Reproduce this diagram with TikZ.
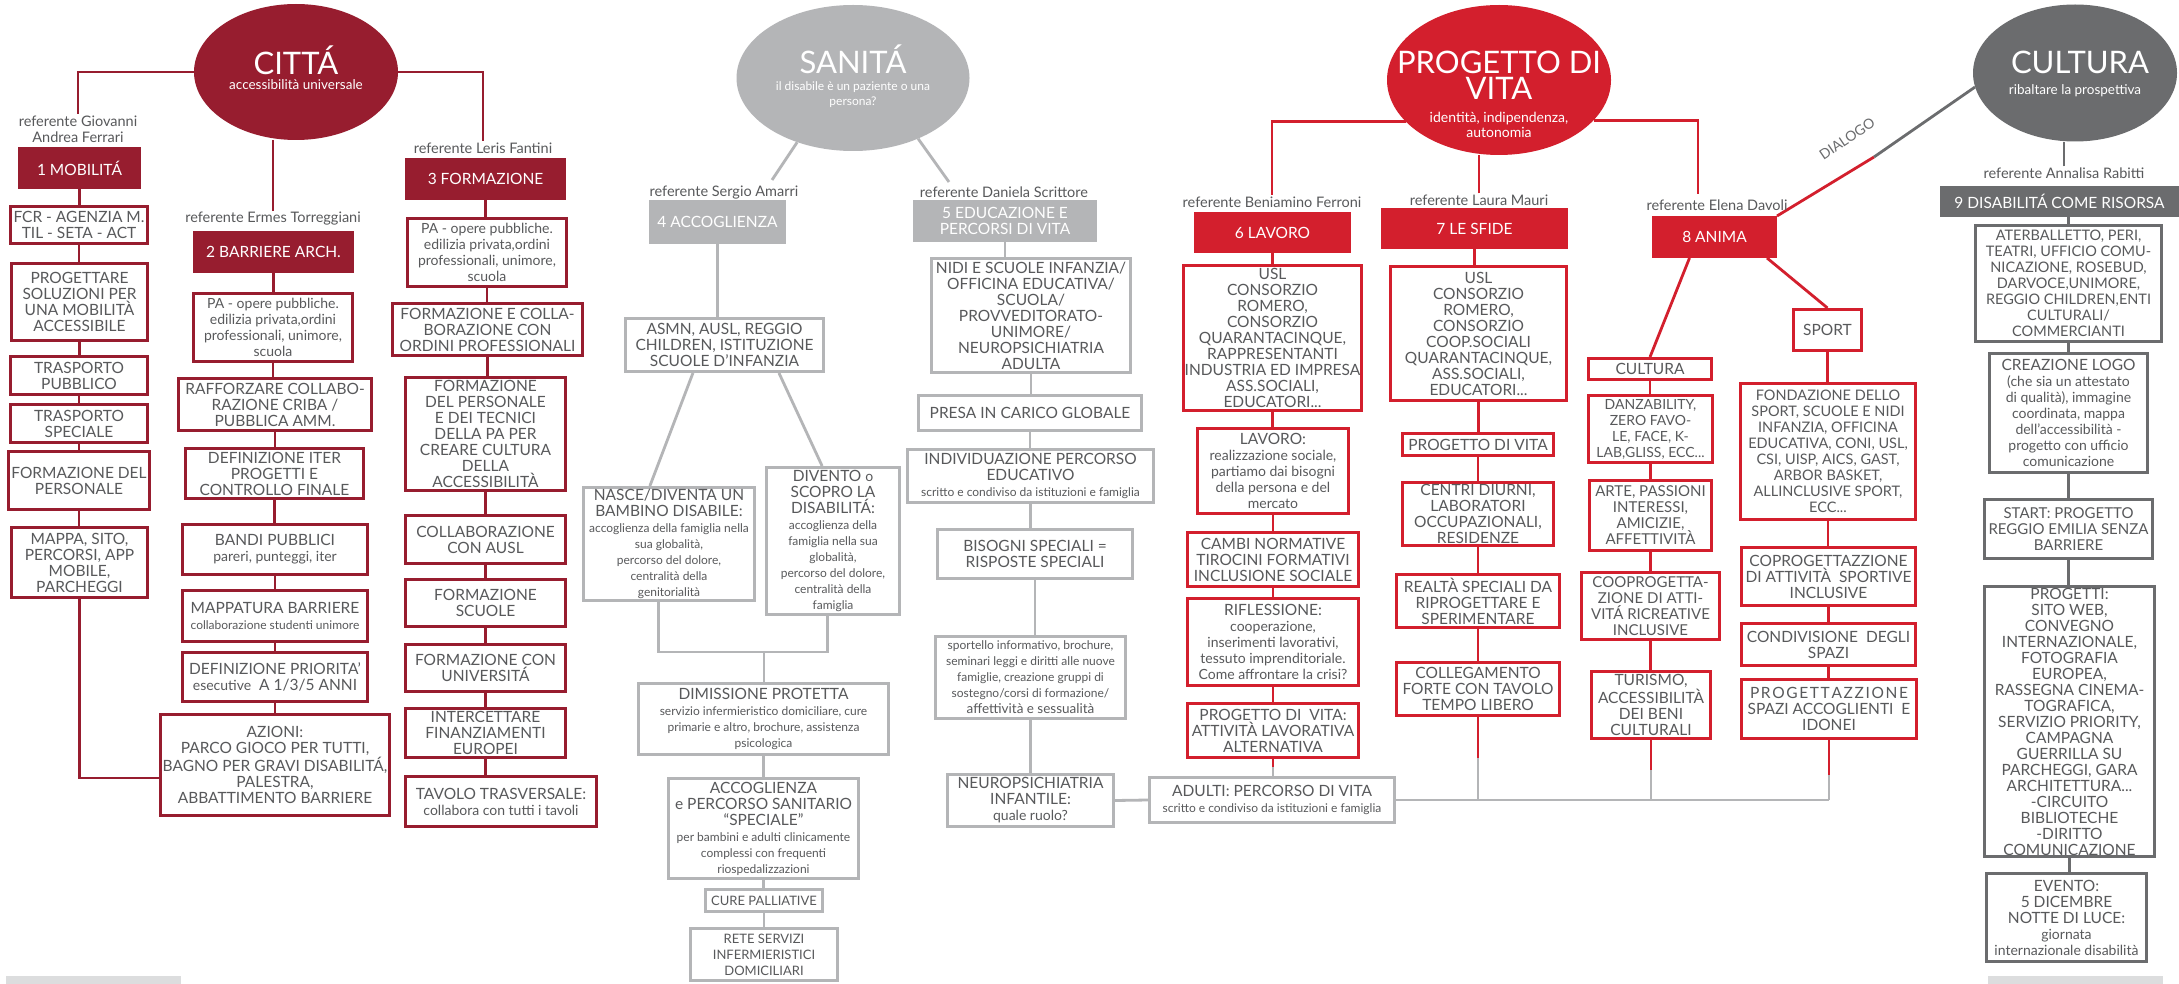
\documentclass[tikz,border=0pt]{standalone}
\usepackage{fontspec}
\setmainfont{Lato}
\usetikzlibrary{shapes.geometric,calc}
\definecolor{cred}{HTML}{971D2F}
\definecolor{pred}{HTML}{D31F2D}
\definecolor{sgr}{HTML}{B4B5B7}
\definecolor{kgr}{HTML}{6B6C6E}
\definecolor{txt}{HTML}{58595B}
\definecolor{barc}{HTML}{DCDDDE}
\pgfdeclarelayer{bg}
\pgfsetlayers{bg,main}
\newcommand\CAP{\fontsize{15.5}{16}\selectfont}
\newcommand\MED{\fontsize{14}{16}\selectfont}
\newcommand\SML{\fontsize{12}{14.5}\selectfont}
\newcommand\RBOX[7]{\node[#2, minimum width={(#5)-(#3)-2.8}, minimum height={(#6)-(#4)-2.8}] (#1) at ({((#3)+(#5))/2},{((#4)+(#6))/2}) {#7};}
\tikzset{
  bx/.style={align=center, inner sep=1pt, text=txt, font=\CAP, fill=white, line width=2.8pt},
  cb/.style={bx, draw=cred},
  cf/.style={bx, draw=cred, fill=cred, text=white},
  sb/.style={bx, draw=sgr},
  sf/.style={bx, draw=sgr, fill=sgr, text=white},
  pb/.style={bx, draw=pred},
  pf/.style={bx, draw=pred, fill=pred, text=white},
  kb/.style={bx, draw=kgr},
  kf/.style={bx, draw=kgr, fill=kgr, text=white},
  refl/.style={align=center, inner sep=1pt, text=txt, font=\fontsize{14.5}{16}\selectfont},
  ell/.style={ellipse, inner sep=0pt, draw=none},
  ttl/.style={align=center, text=white, inner sep=0pt},
  cl/.style={draw=cred, line width=2.8pt},
  sl/.style={draw=sgr, line width=2.8pt},
  pl/.style={draw=pred, line width=2.8pt},
  kl/.style={draw=kgr, line width=2.8pt},
}
\begin{document}
\begin{tikzpicture}[x=1pt,y=-1pt]
\useasboundingbox (0,0) rectangle (2179,984);
% ellipses
\node[ell, fill=cred, minimum width=204, minimum height=136] (citta) at (296,72) {};
\node[ell, fill=sgr, minimum width=233, minimum height=146] (sanita) at (853,78) {};
\node[ell, fill=pred, minimum width=224, minimum height=150] (pv) at (1499,80) {};
\node[ell, fill=kgr, minimum width=204, minimum height=137] (cu) at (2075,73) {};
\node[ttl, anchor=base, font=\fontsize{31}{31}\selectfont] (ct1) at (296,75) {CITTÁ};
\node[ttl, anchor=base, font=\fontsize{13.5}{15}\selectfont] (ct2) at (296,90) {accessibilità universale};
\node[ttl, anchor=base, font=\fontsize{31}{31}\selectfont] (st1) at (853,74) {SANITÁ};
\node[ttl, font=\fontsize{12}{15}\selectfont] (st2) at (853,95) {il disabile è un paziente o una\\persona?};
\node[ttl, font=\fontsize{31}{26}\selectfont] (pt1) at (1499,75) {PROGETTO DI\\VITA};
\node[ttl, font=\fontsize{14}{15}\selectfont] (pt2) at (1499,125) {identità, indipendenza,\\autonomia};
\node[ttl, anchor=base, font=\fontsize{31}{31}\selectfont] (kt1) at (2080,74) {CULTURA};
\node[ttl, anchor=base, font=\fontsize{13.5}{15}\selectfont] (kt2) at (2075,95) {ribaltare la prospettiva};
% referenti
\node[refl] (r1) at (78,129) {referente Giovanni\\Andrea Ferrari};
\node[refl] (r2) at (273,219) {referente Ermes Torreggiani};
\node[refl] (r3) at (483,148) {referente Leris Fantini};
\node[refl] (r4) at (724,193) {referente Sergio Amarri};
\node[refl] (r5) at (1004,192) {referente Daniela Scrittore};
\node[refl] (r6) at (1272,202) {referente Beniamino Ferroni};
\node[refl] (r7) at (1479,200) {referente Laura Mauri};
\node[refl] (r8) at (1717,205) {referente Elena Davoli};
\node[refl] (r9) at (2064,173) {referente Annalisa Rabitti};
% CITTA
\RBOX{f1}{cf}{18}{147}{141}{189}{1 MOBILITÁ}
\RBOX{c1a}{cb}{9}{205}{149}{245}{FCR - AGENZIA M.\\TIL - SETA - ACT}
\RBOX{c1b}{cb}{10}{262}{149}{342}{PROGETTARE\\SOLUZIONI PER\\UNA MOBILITÀ\\ACCESSIBILE}
\RBOX{c1c}{cb}{9}{355}{149}{396}{TRASPORTO\\PUBBLICO}
\RBOX{c1d}{cb}{9}{403}{149}{444}{TRASPORTO\\SPECIALE}
\RBOX{c1e}{cb}{7}{450}{151}{511}{FORMAZIONE DEL\\PERSONALE}
\RBOX{c1f}{cb}{10}{526}{149}{599}{MAPPA, SITO,\\PERCORSI, APP\\MOBILE,\\PARCHEGGI}
\RBOX{f2}{cf}{193}{231}{354}{273}{2 BARRIERE ARCH.}
\RBOX{c2a}{cb}{192}{292}{354}{363}{\MED PA - opere pubbliche.\\\MED edilizia privata,ordini\\\MED professionali, unimore,\\\MED scuola}
\RBOX{c2b}{cb}{177}{377}{373}{432}{RAFFORZARE COLLABO-\\RAZIONE CRIBA /\\PUBBLICA AMM.}
\RBOX{c2c}{cb}{184}{447}{365}{500}{DEFINIZIONE ITER\\PROGETTI E\\CONTROLLO FINALE}
\RBOX{c2d}{cb}{181}{523}{369}{576}{BANDI PUBBLICI\\\MED pareri, punteggi, iter}
\RBOX{c2e}{cb}{181}{589}{369}{643}{MAPPATURA BARRIERE\\\fontsize{12}{14}\selectfont collaborazione studenti unimore}
\RBOX{c2f}{cb}{181}{651}{369}{703}{DEFINIZIONE PRIORITA’\\{\MED esecutive}\ \ A 1/3/5 ANNI}
\RBOX{c2g}{cb}{159}{713}{391}{817}{AZIONI:\\PARCO GIOCO PER TUTTI,\\BAGNO PER GRAVI DISABILITÁ,\\PALESTRA,\\ABBATTIMENTO BARRIERE}
\RBOX{f3}{cf}{405}{158}{566}{200}{3 FORMAZIONE}
\RBOX{c3a}{cb}{406}{217}{568}{288}{\MED PA - opere pubbliche.\\\MED edilizia privata,ordini\\\MED professionali, unimore,\\\MED scuola}
\RBOX{c3b}{cb}{391}{302}{584}{357}{FORMAZIONE E COLLA-\\BORAZIONE CON\\ORDINI PROFESSIONALI}
\RBOX{c3c}{cb}{404}{376}{567}{492}{FORMAZIONE\\DEL PERSONALE\\E DEI TECNICI\\DELLA PA PER\\CREARE CULTURA\\DELLA\\ACCESSIBILITÀ}
\RBOX{c3d}{cb}{404}{514}{567}{565}{COLLABORAZIONE\\CON AUSL}
\RBOX{c3e}{cb}{404}{578}{567}{628}{FORMAZIONE\\SCUOLE}
\RBOX{c3f}{cb}{404}{643}{567}{693}{FORMAZIONE CON\\UNIVERSITÁ}
\RBOX{c3g}{cb}{404}{707}{567}{759}{INTERCETTARE\\FINANZIAMENTI\\EUROPEI}
\RBOX{c3h}{cb}{404}{775}{598}{828}{TAVOLO TRASVERSALE:\\\MED collabora con tutti i tavoli}
% SANITA
\RBOX{f4}{sf}{649}{200}{786}{244}{4 ACCOGLIENZA}
\RBOX{s4a}{sb}{624}{317}{825}{373}{ASMN, AUSL, REGGIO\\CHILDREN, ISTITUZIONE\\SCUOLE D’INFANZIA}
\RBOX{s4b}{sb}{582}{486}{756}{602}{NASCE/DIVENTA UN\\BAMBINO DISABILE:\\\SML accoglienza della famiglia nella\\\SML sua globalità,\\\SML percorso del dolore,\\\SML centralità della\\\SML genitorialità}
\RBOX{s4c}{sb}{765}{466}{901}{616}{DIVENTO {\MED o}\\SCOPRO LA\\DISABILITÁ:\\\SML accoglienza della\\\SML famiglia nella sua\\\SML globalità,\\\SML percorso del dolore,\\\SML centralità della\\\SML famiglia}
\RBOX{s4d}{sb}{637}{682}{890}{756}{DIMISSIONE PROTETTA\\\SML servizio infermieristico domiciliare, cure\\\SML primarie e altro, brochure, assistenza\\\SML psicologica}
\RBOX{s4e}{sb}{667}{777}{860}{880}{ACCOGLIENZA\\e PERCORSO SANITARIO\\“SPECIALE”\\\SML per bambini e adulti clinicamente\\\SML complessi con frequenti\\\SML riospedalizzazioni}
\RBOX{s4f}{sb}{704}{888}{824}{913}{\fontsize{13}{15}\selectfont CURE PALLIATIVE}
\RBOX{s4g}{sb}{689}{927}{839}{982}{\fontsize{13}{15}\selectfont RETE SERVIZI\\\fontsize{13}{15}\selectfont INFERMIERISTICI\\\fontsize{13}{15}\selectfont DOMICILIARI}
\RBOX{f5}{sf}{913}{200}{1097}{242}{5 EDUCAZIONE E\\PERCORSI DI VITA}
\RBOX{s5a}{sb}{930}{257}{1132}{374}{NIDI E SCUOLE INFANZIA/\\OFFICINA EDUCATIVA/\\SCUOLA/\\PROVVEDITORATO-\\UNIMORE/\\NEUROPSICHIATRIA\\ADULTA}
\RBOX{s5b}{sb}{917}{394}{1143}{432}{PRESA IN CARICO GLOBALE}
\RBOX{s5c}{sb}{906}{448}{1155}{504}{INDIVIDUAZIONE PERCORSO\\EDUCATIVO\\\SML scritto e condiviso da istituzioni e famiglia}
\RBOX{s5d}{sb}{936}{528}{1134}{580}{BISOGNI SPECIALI =\\RISPOSTE SPECIALI}
\RBOX{s5e}{sb}{934}{635}{1127}{720}{\SML sportello informativo, brochure,\\\SML seminari leggi e diritti alle nuove\\\SML famiglie, creazione gruppi di\\\SML sostegno/corsi di formazione/\\\fontsize{13.5}{14.5}\selectfont affettività e sessualità}
\RBOX{s5f}{sb}{946}{773}{1115}{828}{NEUROPSICHIATRIA\\INFANTILE:\\\MED quale ruolo?}
% PROGETTO DI VITA
\RBOX{f6}{pf}{1194}{212}{1351}{253}{6 LAVORO}
\RBOX{p6a}{pb}{1183}{264}{1362}{412}{USL\\CONSORZIO\\ROMERO,\\CONSORZIO\\QUARANTACINQUE,\\RAPPRESENTANTI\\INDUSTRIA ED IMPRESA\\ASS.SOCIALI,\\EDUCATORI...}
\RBOX{p6b}{pb}{1196}{427}{1350}{515}{LAVORO:\\\MED realizzazione sociale,\\\MED partiamo dai bisogni\\\MED della persona e del\\\MED mercato}
\RBOX{p6c}{pb}{1186}{531}{1360}{588}{CAMBI NORMATIVE\\TIROCINI FORMATIVI\\INCLUSIONE SOCIALE}
\RBOX{p6d}{pb}{1186}{597}{1360}{687}{RIFLESSIONE:\\\MED cooperazione,\\\MED inserimenti lavorativi,\\\MED tessuto imprenditoriale.\\\MED Come affrontare la crisi?}
\RBOX{p6e}{pb}{1186}{702}{1360}{759}{PROGETTO DI\ \ VITA:\\ATTIVITÀ LAVORATIVA\\ALTERNATIVA}
\RBOX{p6f}{sb}{1148}{776}{1396}{824}{ADULTI: PERCORSO DI VITA\\\SML scritto e condiviso da istituzioni e famiglia}
\RBOX{f7}{pf}{1381}{208}{1568}{249}{7 LE SFIDE}
\RBOX{p7a}{pb}{1389}{265}{1568}{402}{USL\\CONSORZIO\\ROMERO,\\CONSORZIO\\COOP.SOCIALI\\QUARANTACINQUE,\\ASS.SOCIALI,\\EDUCATORI...}
\RBOX{p7b}{pb}{1401}{432}{1555}{457}{PROGETTO DI VITA}
\RBOX{p7c}{pb}{1401}{481}{1555}{547}{CENTRI DIURNI,\\LABORATORI\\OCCUPAZIONALI,\\RESIDENZE}
\RBOX{p7d}{pb}{1395}{573}{1561}{629}{REALTÀ SPECIALI DA\\RIPROGETTARE E\\SPERIMENTARE}
\RBOX{p7e}{pb}{1395}{661}{1561}{717}{COLLEGAMENTO\\FORTE CON TAVOLO\\TEMPO LIBERO}
\RBOX{f8}{pf}{1652}{216}{1777}{258}{8 ANIMA}
\RBOX{p8a}{pb}{1587}{357}{1713}{381}{CULTURA}
\RBOX{p8b}{pb}{1587}{394}{1714}{464}{\fontsize{14}{16}\selectfont DANZABILITY,\\\fontsize{14}{16}\selectfont ZERO FAVO-\\\fontsize{14}{16}\selectfont LE, FACE, K-\\\fontsize{14}{16}\selectfont LAB,GLISS, ECC...}
\RBOX{p8c}{pb}{1588}{479}{1713}{552}{\fontsize{15}{16}\selectfont ARTE, PASSIONI\\\fontsize{15}{16}\selectfont INTERESSI,\\\fontsize{15}{16}\selectfont AMICIZIE,\\\fontsize{15}{16}\selectfont AFFETTIVITÀ}
\RBOX{p8d}{pb}{1580}{571}{1721}{641}{\fontsize{15}{16}\selectfont COOPROGETTA-\\\fontsize{15}{16}\selectfont ZIONE DI ATTI-\\\fontsize{15}{16}\selectfont VITÁ RICREATIVE\\\fontsize{15}{16}\selectfont INCLUSIVE}
\RBOX{p8e}{pb}{1590}{670}{1712}{740}{TURISMO,\\ACCESSIBILITÀ\\DEI BENI\\CULTURALI}
\RBOX{p8f}{pb}{1792}{308}{1863}{352}{SPORT}
\RBOX{p8g}{pb}{1739}{382}{1917}{521}{\fontsize{14.5}{16}\selectfont FONDAZIONE DELLO\\\fontsize{14.5}{16}\selectfont SPORT, SCUOLE E NIDI\\\fontsize{14.5}{16}\selectfont INFANZIA, OFFICINA\\\fontsize{14.5}{16}\selectfont EDUCATIVA, CONI, USL,\\\fontsize{14.5}{16}\selectfont CSI, UISP, AICS, GAST,\\\fontsize{14.5}{16}\selectfont ARBOR BASKET,\\\fontsize{14.5}{16}\selectfont ALLINCLUSIVE SPORT,\\\fontsize{14.5}{16}\selectfont ECC...}
\RBOX{p8h}{pb}{1740}{546}{1917}{607}{COPROGETTAZZIONE\\DI ATTIVITÀ\ \ SPORTIVE\\INCLUSIVE}
\RBOX{p8i}{pb}{1740}{622}{1917}{667}{CONDIVISIONE\ \ DEGLI\\SPAZI}
\RBOX{p8j}{pb}{1740}{678}{1918}{740}{\makebox[158pt][s]{P\hfill R\hfill O\hfill G\hfill E\hfill T\hfill T\hfill A\hfill Z\hfill Z\hfill I\hfill O\hfill N\hfill E}\\SPAZI ACCOGLIENTI\ \ E\\IDONEI}
% CULTURA
\RBOX{f9}{kf}{1940}{186}{2179}{217}{9 DISABILITÁ COME RISORSA}
\RBOX{k9a}{kb}{1974}{224}{2163}{343}{\fontsize{14.5}{16}\selectfont ATERBALLETTO, PERI,\\\fontsize{14.5}{16}\selectfont TEATRI, UFFICIO COMU-\\\fontsize{14.5}{16}\selectfont NICAZIONE, ROSEBUD,\\\fontsize{14.5}{16}\selectfont DARVOCE,UNIMORE,\\\fontsize{14.5}{16}\selectfont REGGIO CHILDREN,ENTI\\\fontsize{14.5}{16}\selectfont CULTURALI/\\\fontsize{14.5}{16}\selectfont COMMERCIANTI}
\RBOX{k9b}{kb}{1988}{352}{2149}{474}{CREAZIONE LOGO\\\MED (che sia un attestato\\\MED di qualità), immagine\\\MED coordinata, mappa\\\MED dell’accessibilità -\\\MED progetto con ufficio\\\MED comunicazione}
\RBOX{k9c}{kb}{1983}{498}{2154}{560}{\fontsize{15}{16}\selectfont START: PROGETTO\\\fontsize{15}{16}\selectfont REGGIO EMILIA SENZA\\\fontsize{15}{16}\selectfont BARRIERE}
\RBOX{k9d}{kb}{1983}{585}{2156}{858}{PROGETTI:\\SITO WEB,\\CONVEGNO\\INTERNAZIONALE,\\FOTOGRAFIA\\EUROPEA,\\RASSEGNA CINEMA-\\TOGRAFICA,\\SERVIZIO PRIORITY,\\CAMPAGNA\\GUERRILLA SU\\PARCHEGGI, GARA\\ARCHITETTURA...\\-CIRCUITO\\BIBLIOTECHE\\-DIRITTO\\COMUNICAZIONE}
\RBOX{k9e}{kb}{1985}{872}{2148}{963}{EVENTO:\\5 DICEMBRE\\NOTTE DI LUCE:\\\MED giornata\\\MED internazionale disabilità}
% label
\node[rotate=34, text=kgr, inner sep=0pt, font=\fontsize{14}{14}\selectfont] (dlg) at (1847,139) {DIALOGO};
% free ends
\coordinate (sa) at (772,180);
\coordinate (sb) at (949,182);
\coordinate (e8) at (1698,194);
\coordinate (dm) at (1874,157);
\coordinate (jn) at (764,652);
% bars
\fill[barc] (6,976) rectangle (181,984);
\fill[barc] (1988,976) rectangle (2163,984);
\begin{pgfonlayer}{bg}
\fill[white] (0,0) rectangle (2179,984);
% citta
\draw[cl] (citta.west) -| (r1.north);
\draw[cl] (r2.north) -- (r2.north |- citta.south);
\draw[cl] (citta.east) -| (r3.north);
\foreach \a/\b in {f1/c1a,c1a/c1b,c1b/c1c,c1c/c1d,c1d/c1e,c1e/c1f,f2/c2a,c2a/c2b,c2b/c2c,c2c/c2d,c2d/c2e,c2e/c2f,c2f/c2g,f3/c3a,c3a/c3b,c3b/c3c,c3c/c3d,c3d/c3e,c3e/c3f,c3f/c3g,c3g/c3h}
  \draw[cl] (\a.south) -- (\a.south |- \b.north);
\draw[cl] (c1f.south) |- ($(c2g.west)+(0,13)$);
% sanita
\draw[sl] (sanita.229) -- (sa);
\draw[sl] (sanita.317) -- (sb);
\foreach \a/\b in {f4/s4a,s4d/s4e,s4e/s4f,s4f/s4g,f5/s5a,s5a/s5b,s5b/s5c,s5c/s5d,s5d/s5e,s5e/s5f}
  \draw[sl] (\a.south) -- (\a.south |- \b.north);
\draw[sl] ($(s4a.south west)!0.343!(s4a.south east)$) -- ($(s4b.north west)!0.39!(s4b.north east)$);
\draw[sl] ($(s4a.south west)!0.771!(s4a.south east)$) -- ($(s4c.north west)!0.42!(s4c.north east)$);
\draw[sl] ($(s4b.south west)!0.44!(s4b.south east)$) |- (jn) -| ($(s4c.south west)!0.46!(s4c.south east)$);
\draw[sl] (jn) -- (jn |- s4d.north);
\draw[sl] (s5f.east) -- (p6f.west);
% progetto
\draw[pl] (pv.204) -| (r6.north);
\draw[pl] (r7.north) -- (r7.north |- pv.south);
\draw[pl] (pv.337) -| (e8);
\foreach \a/\b in {f6/p6a,p6a/p6b,p6b/p6c,p6c/p6d,p6d/p6e,f7/p7a,p7a/p7b,p7b/p7c,p7c/p7d,p7d/p7e,p8a/p8b,p8b/p8c,p8c/p8d,p8d/p8e,p8f/p8g,p8g/p8h,p8h/p8i,p8i/p8j}
  \draw[pl] (\a.south) -- (\a.south |- \b.north);
\draw[pl] ($(f8.south west)!0.3!(f8.south east)$) -- (p8a.north);
\draw[pl] ($(f8.south west)!0.92!(f8.south east)$) -- (p8f.north);
\draw[pl] (f8.north east) -- (dm);
\draw[kl] (dm) -- (cu.188);
\draw[sl] (p6f.east) -- (p6f.east -| p8j.south);
\draw[pl] (p6e.south) -- ++(0,8) coordinate (q6);
\draw[sl] (q6) -- (q6 |- p6f.north);
\draw[pl] (p7e.south) -- ++(0,41) coordinate (q7);
\draw[sl] (q7) -- (q7 |- p6f.east);
\draw[pl] (p8e.south) -- ++(0,30) coordinate (q8);
\draw[sl] (q8) -- (q8 |- p6f.east);
\draw[pl] (p8j.south) -- ++(0,35) coordinate (q9);
\draw[sl] (q9) -- (q9 |- p6f.east);
% cultura
\draw[kl] (r9.north) -- (r9.north |- cu.south);
\draw[kl] (k9a.north) -- (k9a.north |- f9.south);
\foreach \a/\b in {k9a/k9b,k9b/k9c,k9c/k9d,k9d/k9e}
  \draw[kl] (\a.south) -- (\a.south |- \b.north);
\end{pgfonlayer}
\end{tikzpicture}
\end{document}
